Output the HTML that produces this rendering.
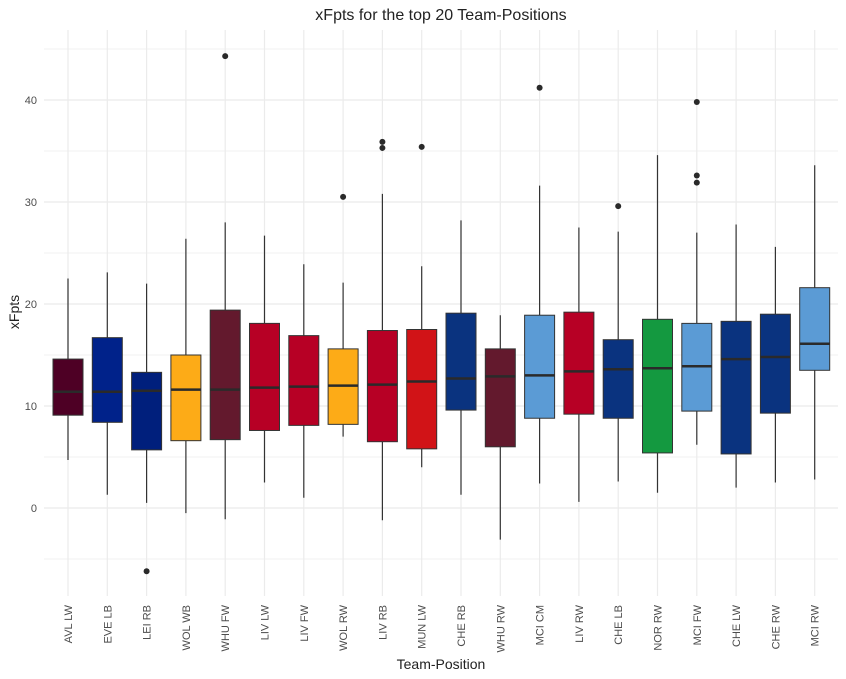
<!DOCTYPE html>
<html><head><meta charset="utf-8"><style>
body{margin:0;background:#fff;font-family:"Liberation Sans",sans-serif}
svg{display:block}
</style></head><body>
<svg id="chart" width="846" height="679" xmlns="http://www.w3.org/2000/svg">
<text x="441" y="20" text-anchor="middle" font-size="16" fill="#222">xFpts for the top 20 Team-Positions</text>
<text x="441" y="669" text-anchor="middle" font-size="14" fill="#222">Team-Position</text>
<text transform="translate(19,312) rotate(-90)" text-anchor="middle" font-size="14" fill="#222">xFpts</text>
<g id="grid"></g><g id="marks"></g><g id="labels"></g>
</svg>
<script>
const categories=["AVL LW","EVE LB","LEI RB","WOL WB","WHU FW","LIV LW","LIV FW","WOL RW","LIV RB","MUN LW","CHE RB","WHU RW","MCI CM","LIV RW","CHE LB","NOR RW","MCI FW","CHE LW","CHE RW","MCI RW"];
const whiskerLow=[4.7,1.3,0.5,-0.5,-1.1,2.5,1.0,7.0,-1.2,4.0,1.3,-3.1,2.4,0.6,2.6,1.5,6.2,2.0,2.5,2.8];
const q1=[9.1,8.4,5.7,6.6,6.7,7.6,8.1,8.2,6.5,5.8,9.6,6.0,8.8,9.2,8.8,5.4,9.5,5.3,9.3,13.5];
const medians=[11.4,11.4,11.5,11.6,11.6,11.8,11.9,12.0,12.1,12.4,12.7,12.9,13.0,13.4,13.6,13.7,13.9,14.6,14.8,16.1];
const q3=[14.6,16.7,13.3,15.0,19.4,18.1,16.9,15.6,17.4,17.5,19.1,15.6,18.9,19.2,16.5,18.5,18.1,18.3,19.0,21.6];
const whiskerHigh=[22.5,23.1,22.0,26.4,28.0,26.7,23.9,22.1,30.8,23.7,28.2,18.9,31.6,27.5,27.1,34.6,27.0,27.8,25.6,33.6];
const outliers=[[],[],[-6.2],[],[44.3],[],[],[30.5],[35.9,35.3],[35.4],[],[],[41.2],[],[29.6],[],[39.8,32.6,31.9],[],[],[]];
const colors=["#4e0025","#00228a","#001f7c","#fdab17","#63192d","#b70025","#b70025","#fdab17","#b70025","#d11317","#0a337f","#63192d","#5b9bd5","#b70025","#0a337f","#149940","#5b9bd5","#0a337f","#0a337f","#5b9bd5"];
const yTicks=[0,10,20,30,40];
const yMinor=[-5,5,15,25,35,45];
const NS="http://www.w3.org/2000/svg";
const L=44,R=838,T=30,B=596;
const xs=i=>68+i*39.3;
const ys=v=>508-v*10.2;
function mk(p,tag,a){const e=document.createElementNS(NS,tag);for(const k in a)e.setAttribute(k,a[k]);p.appendChild(e);return e;}
const g=document.getElementById('grid'),m=document.getElementById('marks'),lb=document.getElementById('labels');
yMinor.forEach(v=>{const e=mk(g,'line',{x1:L,x2:R,y1:ys(v),y2:ys(v),stroke:'#f2f2f2','stroke-width':1});

});
yTicks.forEach(v=>{const e=mk(g,'line',{x1:L,x2:R,y1:ys(v),y2:ys(v),stroke:'#ebebeb','stroke-width':1.2});


const t=mk(lb,'text',{x:37,y:ys(v)+4,'text-anchor':'end','font-size':11,fill:'#4d4d4d'});t.textContent=v;

});
categories.forEach((c,i)=>{const x=xs(i);
const gl=mk(g,'line',{x1:x,x2:x,y1:T,y2:B,stroke:'#ebebeb','stroke-width':1.2});


const w=mk(m,'line',{x1:x,x2:x,y1:ys(whiskerHigh[i]),y2:ys(whiskerLow[i]),stroke:'#333','stroke-width':1.2});


const b=mk(m,'rect',{x:x-15,y:ys(q3[i]),width:30,height:ys(q1[i])-ys(q3[i]),fill:colors[i],stroke:'#333','stroke-width':1});


const md=mk(m,'line',{x1:x-15,x2:x+15,y1:ys(medians[i]),y2:ys(medians[i]),stroke:'#2a2a2a','stroke-width':2.5});


outliers[i].forEach(o=>{const p=mk(m,'circle',{cx:x,cy:ys(o),r:3,fill:'#2a2a2a'});

});
const t=mk(lb,'text',{transform:`translate(${x+4},605) rotate(-90)`,'text-anchor':'end','font-size':11,fill:'#4d4d4d'});t.textContent=c;


});
</script>
</body></html>
